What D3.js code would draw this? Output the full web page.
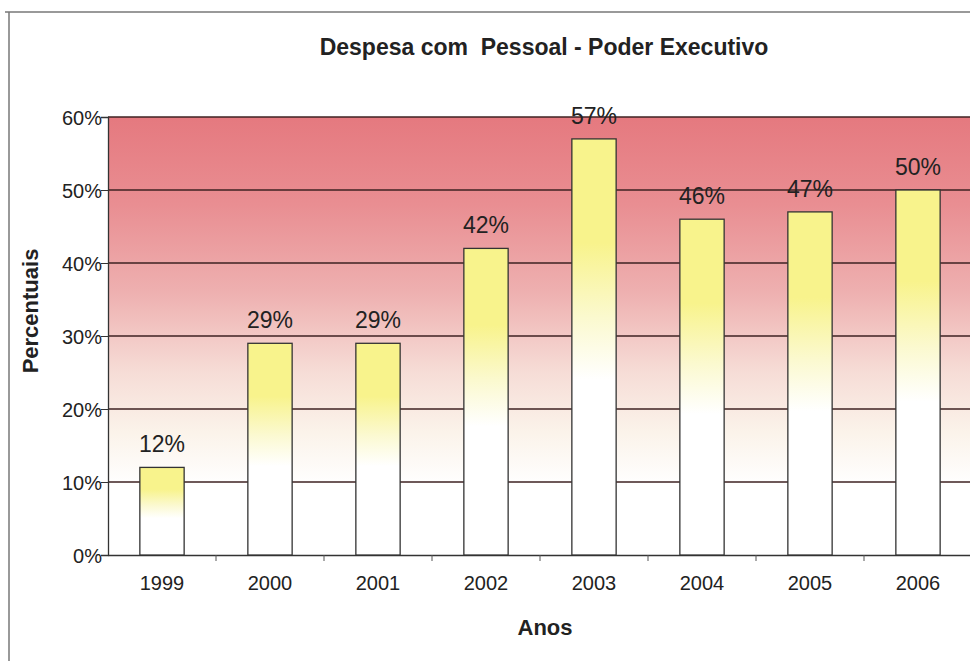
<!DOCTYPE html>
<meta charset="utf-8">
<script src="https://d3js.org/d3.v7.min.js"></script>
<style>
  body { margin: 0; background: #fff; }
  text { font-family: "Liberation Sans", Arial, sans-serif; fill: #222; }
</style>
<div id="my_dataviz"></div>
<script>
  // data
  const years = ["1999", "2000", "2001", "2002", "2003", "2004", "2005", "2006"];
  const values = [12, 29, 29, 42, 57, 46, 47, 50];
  const labels = ["12%", "29%", "29%", "42%", "57%", "46%", "47%", "50%"];
  const yTicks = [0, 10, 20, 30, 40, 50, 60];

  const W = 970, H = 661;
  const margin = {top: 117, right: -2, bottom: 106, left: 108},
      width = W - margin.left - margin.right,
      height = H - margin.top - margin.bottom;

  const root = d3.select("#my_dataviz").append("svg")
      .attr("width", W).attr("height", H);

  const defs = root.append("defs");
  const bg = defs.append("linearGradient").attr("id", "bg")
      .attr("x1", 0).attr("y1", 0).attr("x2", 0).attr("y2", 1);
  [[0, "#e5797f"], [0.2, "#e98e92"], [0.4, "#eeb0b0"], [0.58, "#f6dcd6"],
   [0.72, "#fbf3ea"], [0.84, "#ffffff"], [1, "#ffffff"]]
    .forEach(([o, c]) => bg.append("stop").attr("offset", o).attr("stop-color", c));
  const bar = defs.append("linearGradient").attr("id", "bar")
      .attr("x1", 0).attr("y1", 0).attr("x2", 0).attr("y2", 1);
  [[0, "#f8f38c"], [0.25, "#f8f38c"], [0.43, "#fbf9cf"], [0.58, "#ffffff"], [1, "#ffffff"]]
    .forEach(([o, c]) => bar.append("stop").attr("offset", o).attr("stop-color", c));

  // outer frame
  root.append("line").attr("x1", 5).attr("x2", W).attr("y1", 12).attr("y2", 12)
      .attr("stroke", "#777").attr("stroke-width", 1.5);
  root.append("line").attr("x1", 9).attr("x2", 9).attr("y1", 12).attr("y2", H)
      .attr("stroke", "#777").attr("stroke-width", 1.5);

  const svg = root.append("g")
      .attr("transform", `translate(${margin.left}, ${margin.top})`);

  const x = d3.scaleBand().domain(years).range([0, width]).paddingInner(0.59).paddingOuter(0.295);
  const y = d3.scaleLinear().domain([0, 60]).range([height, 0]);

  svg.append("rect").attr("width", width).attr("height", height).attr("fill", "url(#bg)");

  // grid lines
  svg.selectAll(".grid").data(yTicks.slice(1)).join("line")
      .attr("x1", 0).attr("x2", width)
      .attr("y1", d => y(d)).attr("y2", d => y(d))
      .attr("stroke", "#3e2222").attr("stroke-width", 1.3);

  // y axis
  const yAxis = svg.append("g")
      .call(d3.axisLeft(y).tickValues(yTicks).tickFormat(d => d + "%").tickSize(7).tickPadding(-1));
  yAxis.select(".domain").attr("stroke", "#333").attr("stroke-width", 1.3);
  yAxis.selectAll("line").attr("stroke", "#333");
  yAxis.selectAll("text").style("font-size", "20px").attr("fill", "#222").attr("dy", "0.35em");

  // x axis
  const xAxis = svg.append("g").attr("transform", `translate(0, ${height})`)
      .call(d3.axisBottom(x).tickSize(0).tickPadding(21));
  xAxis.select(".domain").attr("stroke", "#333").attr("stroke-width", 1.3);
  xAxis.selectAll("text").style("font-size", "20px").attr("fill", "#222");
  // ticks between categories
  svg.selectAll(".xt").data(years.slice(1)).join("line")
      .attr("x1", d => x(d) - (x.step() - x.bandwidth()) / 2)
      .attr("x2", d => x(d) - (x.step() - x.bandwidth()) / 2)
      .attr("y1", height).attr("y2", height + 6)
      .attr("stroke", "#555");

  // bars
  svg.selectAll(".bar").data(values).join("rect")
      .attr("x", (d, i) => x(years[i]))
      .attr("y", d => y(d))
      .attr("width", x.bandwidth())
      .attr("height", d => height - y(d))
      .attr("fill", "url(#bar)")
      .attr("stroke", "#333").attr("stroke-width", 1.3);

  // value labels
  svg.selectAll(".lbl").data(values).join("text")
      .attr("x", (d, i) => x(years[i]) + x.bandwidth() / 2)
      .attr("y", d => y(d) - 15)
      .attr("text-anchor", "middle")
      .style("font-size", "23px")
      .text((d, i) => labels[i]);

  // titles
  root.append("text").attr("x", 544).attr("y", 55).attr("text-anchor", "middle")
      .style("font-size", "23px").style("font-weight", "bold").style("white-space", "pre")
      .text("Despesa com  Pessoal - Poder Executivo");
  root.append("text").attr("x", 545).attr("y", 635).attr("text-anchor", "middle")
      .style("font-size", "22px").style("font-weight", "bold").text("Anos");
  root.append("text").attr("transform", "translate(38, 311) rotate(-90)")
      .attr("text-anchor", "middle")
      .style("font-size", "22px").style("font-weight", "bold").text("Percentuais");
</script>
